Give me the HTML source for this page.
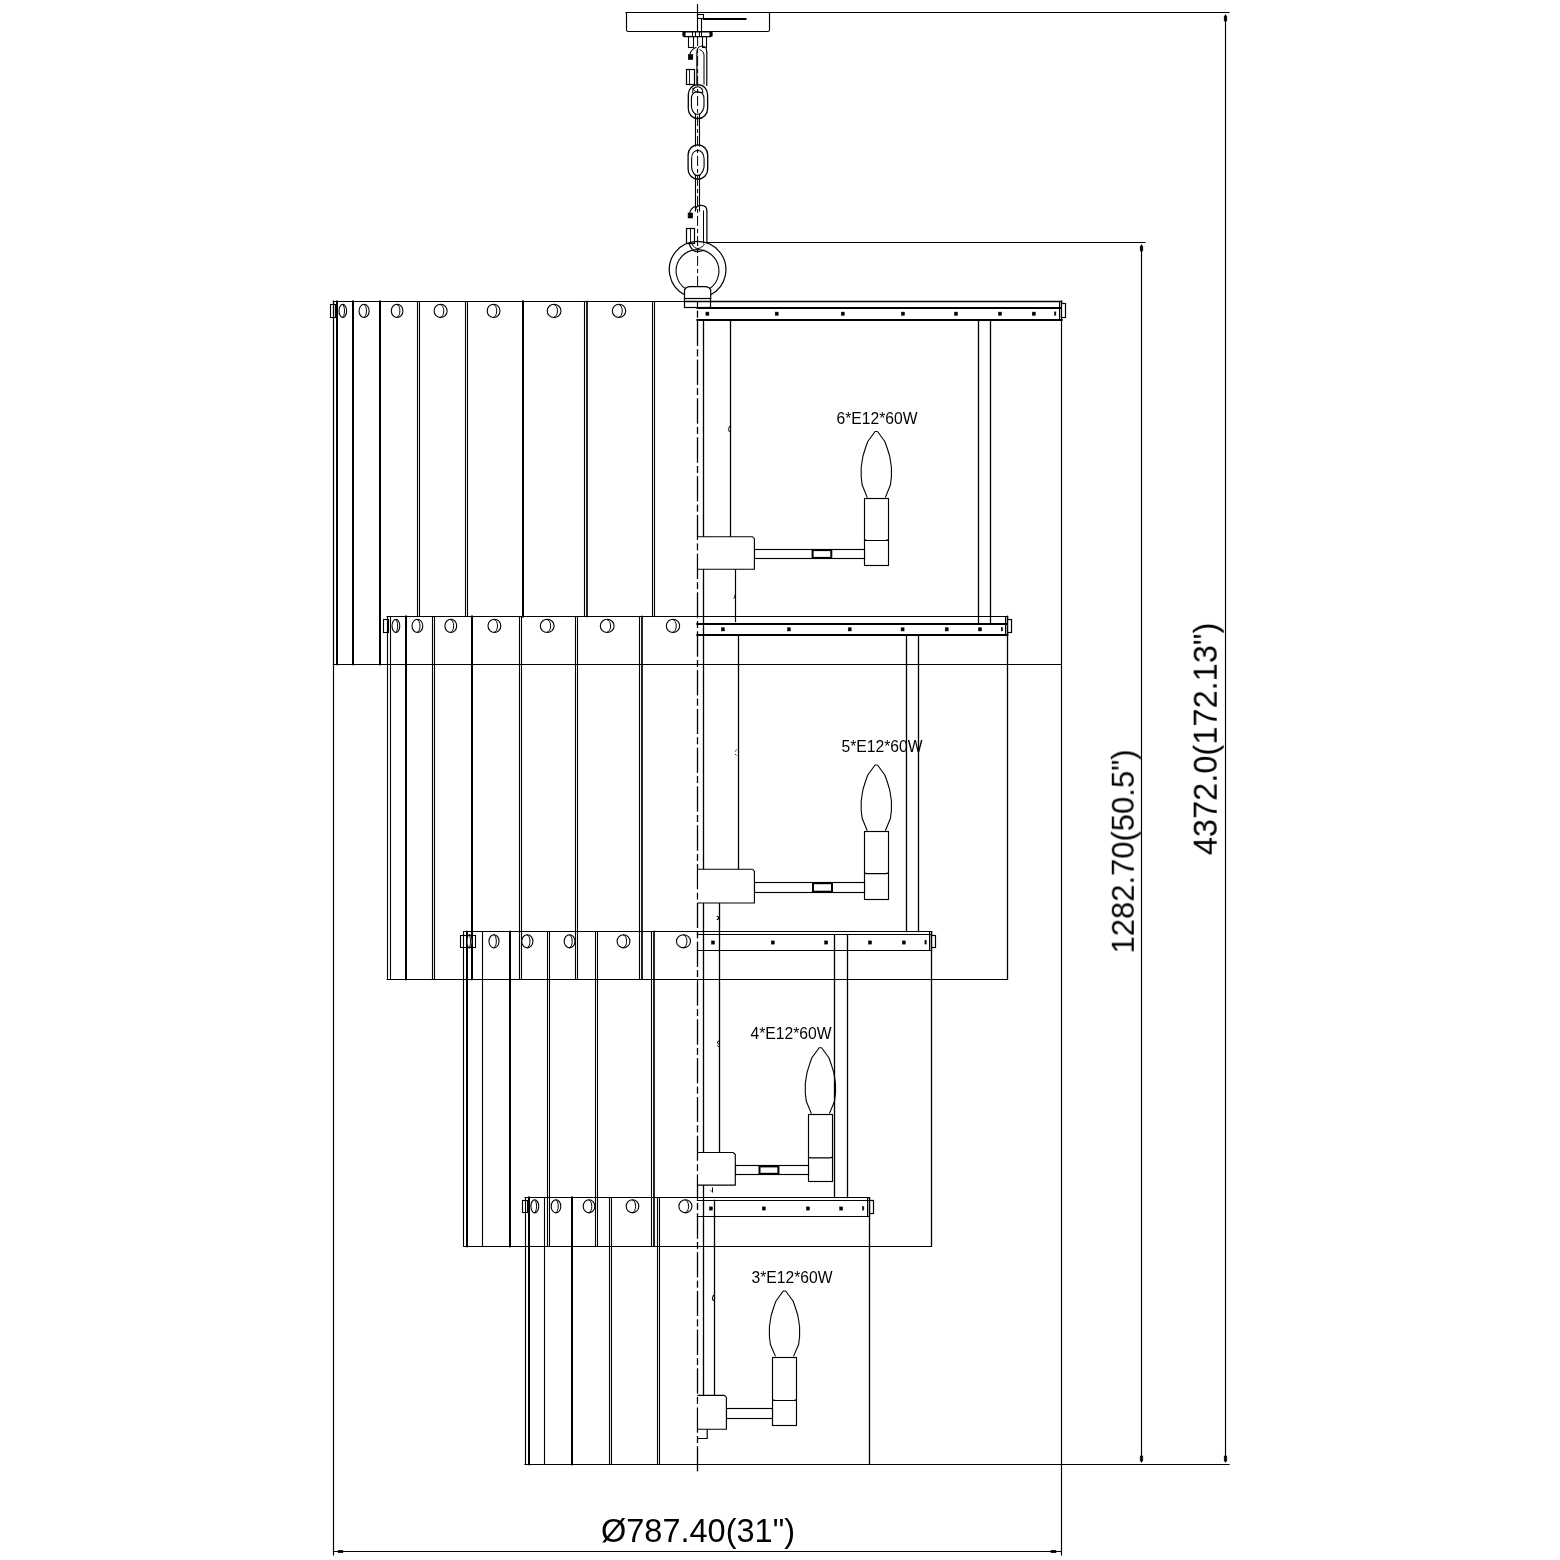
<!DOCTYPE html>
<html><head><meta charset="utf-8"><title>Chandelier drawing</title>
<style>
html,body{margin:0;padding:0;background:#fff;}
body{width:1560px;height:1560px;overflow:hidden;}
svg{display:block;}
</style></head>
<body>
<svg width="1560" height="1560" viewBox="0 0 1560 1560">
<rect x="0" y="0" width="1560" height="1560" fill="#fff"/>
<g stroke="#000" fill="none" stroke-linecap="butt">
<line x1="626" y1="12.5" x2="1229" y2="12.5" stroke-width="1.15" stroke-linecap="square"/>
<line x1="1225.5" y1="15" x2="1225.5" y2="1462" stroke-width="1.15" stroke-linecap="square"/>
<line x1="706" y1="242.5" x2="1145" y2="242.5" stroke-width="1.15" stroke-linecap="square"/>
<line x1="1141.5" y1="245" x2="1141.5" y2="1462" stroke-width="1.15" stroke-linecap="square"/>
<line x1="525" y1="1464.5" x2="1229" y2="1464.5" stroke-width="1.15" stroke-linecap="square"/>
<line x1="333.5" y1="301" x2="333.5" y2="1555" stroke-width="1.15" stroke-linecap="square"/>
<line x1="1061.5" y1="301" x2="1061.5" y2="1555" stroke-width="1.15" stroke-linecap="square"/>
<line x1="333.5" y1="1551.5" x2="1061.5" y2="1551.5" stroke-width="1.15" stroke-linecap="square"/>
<rect x="1224.2" y="16" width="2.60" height="5.00" stroke-width="0.6" fill="#000"/>
<rect x="1140.2" y="246" width="2.60" height="5.00" stroke-width="0.6" fill="#000"/>
<rect x="1224.2" y="1456" width="2.60" height="5.00" stroke-width="0.6" fill="#000"/>
<rect x="1140.2" y="1456" width="2.60" height="5.00" stroke-width="0.6" fill="#000"/>
<rect x="338.2" y="1550.3" width="4.60" height="2.40" stroke-width="0.6" fill="#000"/>
<rect x="1051" y="1550.3" width="5.00" height="2.40" stroke-width="0.6" fill="#000"/>
<line x1="697.5" y1="4.5" x2="697.5" y2="31.5" stroke-width="1.15" stroke-linecap="square"/>
<line x1="697.5" y1="301" x2="697.5" y2="1473.5" stroke-width="1.15" stroke-dasharray="25 3.5 6.8 3.5" stroke-dashoffset="18.8"/>
<line x1="697.6" y1="36" x2="697.6" y2="300" stroke-width="1.0" stroke-dasharray="10 3 4 3"/>
<path d="M626.5,12.5 L626.5,30 Q626.5,31.5 628,31.5 L768,31.5 Q769.5,31.5 769.5,30 L769.5,12.5" stroke-width="1.15" fill="none"/>
<rect x="697.5" y="14.5" width="6.00" height="4.00" stroke-width="1.1" fill="none"/>
<line x1="703.8" y1="19.0" x2="745.5" y2="19.0" stroke-width="2.0" stroke-linecap="square"/>
<line x1="701.5" y1="18.8" x2="701.5" y2="31.5" stroke-width="1.1" stroke-linecap="square"/>
<path d="M684.5,31.8 L710.5,31.8 Q712.8,34.2 710.5,36.6 L684.5,36.6 Q682.2,34.2 684.5,31.8 Z" stroke-width="1.4" fill="none"/>
<rect x="682.8" y="32.2" width="2.40" height="4.00" stroke-width="0.5" fill="#000"/>
<rect x="709.8" y="32.2" width="2.40" height="4.00" stroke-width="0.5" fill="#000"/>
<line x1="692.5" y1="32" x2="692.5" y2="36.4" stroke-width="1.0" stroke-linecap="square"/>
<line x1="695.5" y1="32" x2="695.5" y2="36.4" stroke-width="1.0" stroke-linecap="square"/>
<line x1="699.5" y1="32" x2="699.5" y2="36.4" stroke-width="1.0" stroke-linecap="square"/>
<line x1="701.5" y1="32" x2="701.5" y2="36.4" stroke-width="1.0" stroke-linecap="square"/>
<rect x="688.5" y="36.5" width="5.00" height="11.00" stroke-width="1.1" fill="none"/>
<rect x="702.5" y="36.5" width="4.00" height="11.00" stroke-width="1.1" fill="none"/>
<path d="M696.9,84.6 L696.9,52 C696.9,48 699.5,46 702,46 C705,46 706.8,48.5 706.8,52 L706.8,86" stroke-width="1.2" fill="none"/>
<path d="M699.5,49.6 C702,50.5 703.8,52 704,55 L704,84.6" stroke-width="1.0" fill="none"/>
<path d="M696.4,47.2 C693.5,48.2 690.8,50.5 689.8,54.6" stroke-width="1.1" fill="none"/>
<rect x="688.3" y="54.6" width="4.50" height="4.90" stroke-width="0.6" fill="#000"/>
<rect x="686.5" y="69.5" width="8.00" height="15.00" stroke-width="1.2" fill="none"/>
<line x1="689.5" y1="70" x2="689.5" y2="84" stroke-width="0.9" stroke-linecap="square"/>
<rect x="688.3" y="84.6" width="19.3" height="34.1" rx="9.6" ry="10" stroke-width="1.3" fill="none"/>
<path d="M691.4,99 C691.4,94 694,91.8 697.7,91.8 C701.4,91.8 704,94 704,99 L704,106 C704,110 701,113 699.5,114.3 L695.5,114.3 C694,113 691.4,110 691.4,106 Z" stroke-width="1.1" fill="none"/>
<path d="M692.6,93 A5.2,5.2 0 1 1 702.8,93" stroke-width="1.1" fill="none"/>
<path d="M692.6,88 C693.5,92 700,93.5 702.8,92" stroke-width="1.0" fill="none"/>
<line x1="695.5" y1="114" x2="695.5" y2="146" stroke-width="1.1" stroke-linecap="square"/>
<line x1="699.5" y1="114" x2="699.5" y2="146" stroke-width="1.1" stroke-linecap="square"/>
<rect x="688.1" y="144.9" width="19.6" height="34.3" rx="9.8" ry="10" stroke-width="1.3" fill="none"/>
<path d="M691.6,159 C691.6,154 694,150.4 697.8,150.4 C701.6,150.4 704.1,154 704.1,159 L704.1,166 C704.1,170 701,174 699.8,175.4 L695.4,175.4 C694,174 691.6,170 691.6,166 Z" stroke-width="1.1" fill="none"/>
<line x1="695.5" y1="175" x2="695.5" y2="211" stroke-width="1.1" stroke-linecap="square"/>
<line x1="699.5" y1="175" x2="699.5" y2="211" stroke-width="1.1" stroke-linecap="square"/>
<path d="M695.4,211 C695.4,207 698,205.4 701,205.4 C704.5,205.4 706.9,207.5 706.9,211 L706.9,243" stroke-width="1.2" fill="none"/>
<line x1="703.5" y1="211" x2="703.5" y2="243" stroke-width="1.0" stroke-linecap="square"/>
<path d="M695.4,206.2 C692.5,207.5 690.2,209.8 689.6,213" stroke-width="1.1" fill="none"/>
<rect x="688.1" y="213" width="4.60" height="5.00" stroke-width="0.6" fill="#000"/>
<rect x="686.5" y="228.5" width="8.00" height="15.00" stroke-width="1.2" fill="none"/>
<line x1="690.5" y1="229" x2="690.5" y2="243" stroke-width="0.9" stroke-linecap="square"/>
<path d="M684.5,294.8 A28.3,28.3 0 1 1 710.7,294.8" stroke-width="1.2" fill="none"/>
<path d="M686.5,289.4 A21.4,21.4 0 1 1 708.5,289.4" stroke-width="1.1" fill="none"/>
<path d="M688.9,243 C690,247 693,251.7 697,251.7 C700,251.7 702.5,251 704.5,250" stroke-width="1.1" fill="none"/>
<path d="M692,244 C693.5,247 695.5,248.5 698,248.5 C701,248.5 703,246 704.5,244" stroke-width="1.0" fill="none"/>
<path d="M684.5,298.6 L684.5,290 Q686,286.6 690,286.6 L705,286.6 Q709.2,286.6 710.7,290 L710.7,298.6 Z" stroke-width="1.2" fill="#fff"/>
<rect x="684.5" y="298.5" width="26.00" height="9.00" stroke-width="1.2" fill="#fff"/>
<line x1="684.5" y1="301.5" x2="710.7" y2="301.5" stroke-width="1.0" stroke-linecap="square"/>
<line x1="333.4" y1="301.5" x2="1061.5" y2="301.5" stroke-width="1.15" stroke-linecap="square"/>
<line x1="333.4" y1="664.5" x2="1061.5" y2="664.5" stroke-width="1.15" stroke-linecap="square"/>
<line x1="387.2" y1="616.5" x2="1007.5" y2="616.5" stroke-width="1.15" stroke-linecap="square"/>
<line x1="387.2" y1="979.5" x2="1007.5" y2="979.5" stroke-width="1.15" stroke-linecap="square"/>
<line x1="463.9" y1="931.5" x2="931.5" y2="931.5" stroke-width="1.15" stroke-linecap="square"/>
<line x1="463.9" y1="1246.5" x2="931.5" y2="1246.5" stroke-width="1.15" stroke-linecap="square"/>
<line x1="525.1" y1="1197.5" x2="869.3" y2="1197.5" stroke-width="1.15" stroke-linecap="square"/>
<line x1="333.5" y1="301.5" x2="333.5" y2="664.2" stroke-width="1.1" stroke-linecap="square"/>
<line x1="337.0" y1="301.5" x2="337.0" y2="664.2" stroke-width="2.0" stroke-linecap="square"/>
<line x1="353.0" y1="301.5" x2="353.0" y2="664.2" stroke-width="2.0" stroke-linecap="square"/>
<line x1="380.0" y1="301.5" x2="380.0" y2="664.2" stroke-width="2.0" stroke-linecap="square"/>
<line x1="417.5" y1="301.5" x2="417.5" y2="616.5" stroke-width="1.1" stroke-linecap="square"/>
<line x1="419.5" y1="301.5" x2="419.5" y2="616.5" stroke-width="1.1" stroke-linecap="square"/>
<line x1="465.5" y1="301.5" x2="465.5" y2="616.5" stroke-width="1.1" stroke-linecap="square"/>
<line x1="467.5" y1="301.5" x2="467.5" y2="616.5" stroke-width="1.1" stroke-linecap="square"/>
<line x1="523.0" y1="301.5" x2="523.0" y2="616.5" stroke-width="2.0" stroke-linecap="square"/>
<line x1="584.5" y1="301.5" x2="584.5" y2="616.5" stroke-width="1.1" stroke-linecap="square"/>
<line x1="587.0" y1="301.5" x2="587.0" y2="616.5" stroke-width="1.7" stroke-linecap="square"/>
<line x1="652.5" y1="301.5" x2="652.5" y2="616.5" stroke-width="1.1" stroke-linecap="square"/>
<line x1="654.5" y1="301.5" x2="654.5" y2="616.5" stroke-width="1.1" stroke-linecap="square"/>
<line x1="387.5" y1="616.5" x2="387.5" y2="979.2" stroke-width="1.1" stroke-linecap="square"/>
<line x1="390.5" y1="616.5" x2="390.5" y2="979.2" stroke-width="1.1" stroke-linecap="square"/>
<line x1="406.0" y1="616.5" x2="406.0" y2="979.2" stroke-width="2.0" stroke-linecap="square"/>
<line x1="432.5" y1="616.5" x2="432.5" y2="979.2" stroke-width="1.1" stroke-linecap="square"/>
<line x1="434.5" y1="616.5" x2="434.5" y2="979.2" stroke-width="1.1" stroke-linecap="square"/>
<line x1="472.0" y1="616.5" x2="472.0" y2="979.2" stroke-width="2.0" stroke-linecap="square"/>
<line x1="519.5" y1="616.5" x2="519.5" y2="979.2" stroke-width="1.1" stroke-linecap="square"/>
<line x1="521.5" y1="616.5" x2="521.5" y2="979.2" stroke-width="1.1" stroke-linecap="square"/>
<line x1="575.5" y1="616.5" x2="575.5" y2="979.2" stroke-width="1.1" stroke-linecap="square"/>
<line x1="577.5" y1="616.5" x2="577.5" y2="979.2" stroke-width="1.1" stroke-linecap="square"/>
<line x1="639.5" y1="616.5" x2="639.5" y2="979.2" stroke-width="1.1" stroke-linecap="square"/>
<line x1="642.0" y1="616.5" x2="642.0" y2="979.2" stroke-width="1.7" stroke-linecap="square"/>
<line x1="463.5" y1="931.7" x2="463.5" y2="1246.2" stroke-width="1.1" stroke-linecap="square"/>
<line x1="467.0" y1="931.7" x2="467.0" y2="1246.2" stroke-width="2.0" stroke-linecap="square"/>
<line x1="482.5" y1="931.7" x2="482.5" y2="1246.2" stroke-width="1.1" stroke-linecap="square"/>
<line x1="510.0" y1="931.7" x2="510.0" y2="1246.2" stroke-width="2.0" stroke-linecap="square"/>
<line x1="547.5" y1="931.7" x2="547.5" y2="1246.2" stroke-width="1.1" stroke-linecap="square"/>
<line x1="549.5" y1="931.7" x2="549.5" y2="1246.2" stroke-width="1.1" stroke-linecap="square"/>
<line x1="595.5" y1="931.7" x2="595.5" y2="1246.2" stroke-width="1.1" stroke-linecap="square"/>
<line x1="597.5" y1="931.7" x2="597.5" y2="1246.2" stroke-width="1.1" stroke-linecap="square"/>
<line x1="651.5" y1="931.7" x2="651.5" y2="1246.2" stroke-width="1.1" stroke-linecap="square"/>
<line x1="654.0" y1="931.7" x2="654.0" y2="1246.2" stroke-width="1.7" stroke-linecap="square"/>
<line x1="525.5" y1="1197.5" x2="525.5" y2="1464.3" stroke-width="1.1" stroke-linecap="square"/>
<line x1="529.0" y1="1197.5" x2="529.0" y2="1464.3" stroke-width="2.0" stroke-linecap="square"/>
<line x1="544.5" y1="1197.5" x2="544.5" y2="1464.3" stroke-width="1.1" stroke-linecap="square"/>
<line x1="572.0" y1="1197.5" x2="572.0" y2="1464.3" stroke-width="2.0" stroke-linecap="square"/>
<line x1="609.5" y1="1197.5" x2="609.5" y2="1464.3" stroke-width="1.1" stroke-linecap="square"/>
<line x1="611.5" y1="1197.5" x2="611.5" y2="1464.3" stroke-width="1.1" stroke-linecap="square"/>
<line x1="657.5" y1="1197.5" x2="657.5" y2="1464.3" stroke-width="1.1" stroke-linecap="square"/>
<line x1="659.5" y1="1197.5" x2="659.5" y2="1464.3" stroke-width="1.1" stroke-linecap="square"/>
<ellipse cx="342.8" cy="310.9" rx="3.8" ry="6.6" stroke-width="1.1" fill="#fff"/>
<path d="M342.4,304.6 A2.09,6.3 0 0 1 342.4,317.2" stroke-width="1.0" fill="none"/>
<ellipse cx="364.1" cy="310.9" rx="5.05" ry="6.6" stroke-width="1.1" fill="#fff"/>
<path d="M363.7,304.6 A2.78,6.3 0 0 1 363.7,317.2" stroke-width="1.0" fill="none"/>
<ellipse cx="397.1" cy="310.9" rx="5.8" ry="6.6" stroke-width="1.1" fill="#fff"/>
<path d="M396.7,304.6 A3.19,6.3 0 0 1 396.7,317.2" stroke-width="1.0" fill="none"/>
<ellipse cx="440.6" cy="310.9" rx="6.5" ry="6.6" stroke-width="1.1" fill="#fff"/>
<path d="M440.2,304.6 A3.58,6.3 0 0 1 440.2,317.2" stroke-width="1.0" fill="none"/>
<ellipse cx="493.6" cy="310.9" rx="6.4" ry="6.6" stroke-width="1.1" fill="#fff"/>
<path d="M493.2,304.6 A3.52,6.3 0 0 1 493.2,317.2" stroke-width="1.0" fill="none"/>
<ellipse cx="554.1" cy="310.9" rx="6.9" ry="6.6" stroke-width="1.1" fill="#fff"/>
<path d="M553.7,304.6 A3.80,6.3 0 0 1 553.7,317.2" stroke-width="1.0" fill="none"/>
<ellipse cx="619.0" cy="310.9" rx="6.65" ry="6.6" stroke-width="1.1" fill="#fff"/>
<path d="M618.6,304.6 A3.66,6.3 0 0 1 618.6,317.2" stroke-width="1.0" fill="none"/>
<ellipse cx="395.9" cy="625.9" rx="3.85" ry="6.6" stroke-width="1.1" fill="#fff"/>
<path d="M395.5,619.6 A2.12,6.3 0 0 1 395.5,632.2" stroke-width="1.0" fill="none"/>
<ellipse cx="417.4" cy="625.9" rx="5.4" ry="6.6" stroke-width="1.1" fill="#fff"/>
<path d="M417.0,619.6 A2.97,6.3 0 0 1 417.0,632.2" stroke-width="1.0" fill="none"/>
<ellipse cx="450.8" cy="625.9" rx="5.9" ry="6.6" stroke-width="1.1" fill="#fff"/>
<path d="M450.4,619.6 A3.25,6.3 0 0 1 450.4,632.2" stroke-width="1.0" fill="none"/>
<ellipse cx="494.4" cy="625.9" rx="6.4" ry="6.6" stroke-width="1.1" fill="#fff"/>
<path d="M494.0,619.6 A3.52,6.3 0 0 1 494.0,632.2" stroke-width="1.0" fill="none"/>
<ellipse cx="547.2" cy="625.9" rx="6.9" ry="6.6" stroke-width="1.1" fill="#fff"/>
<path d="M546.8,619.6 A3.80,6.3 0 0 1 546.8,632.2" stroke-width="1.0" fill="none"/>
<ellipse cx="607.2" cy="625.9" rx="6.9" ry="6.6" stroke-width="1.1" fill="#fff"/>
<path d="M606.8,619.6 A3.80,6.3 0 0 1 606.8,632.2" stroke-width="1.0" fill="none"/>
<ellipse cx="673.0" cy="625.9" rx="6.65" ry="6.6" stroke-width="1.1" fill="#fff"/>
<path d="M672.6,619.6 A3.66,6.3 0 0 1 672.6,632.2" stroke-width="1.0" fill="none"/>
<ellipse cx="469.5" cy="941.3" rx="2.5" ry="6.6" stroke-width="1.1" fill="#fff"/>
<path d="M469.1,935.0 A1.38,6.3 0 0 1 469.1,947.6" stroke-width="1.0" fill="none"/>
<ellipse cx="494.0" cy="941.3" rx="5.0" ry="6.6" stroke-width="1.1" fill="#fff"/>
<path d="M493.6,935.0 A2.75,6.3 0 0 1 493.6,947.6" stroke-width="1.0" fill="none"/>
<ellipse cx="527.3" cy="941.3" rx="5.6" ry="6.6" stroke-width="1.1" fill="#fff"/>
<path d="M526.9,935.0 A3.08,6.3 0 0 1 526.9,947.6" stroke-width="1.0" fill="none"/>
<ellipse cx="569.6" cy="941.3" rx="5.4" ry="6.6" stroke-width="1.1" fill="#fff"/>
<path d="M569.2,935.0 A2.97,6.3 0 0 1 569.2,947.6" stroke-width="1.0" fill="none"/>
<ellipse cx="623.5" cy="941.3" rx="6.4" ry="6.6" stroke-width="1.1" fill="#fff"/>
<path d="M623.1,935.0 A3.52,6.3 0 0 1 623.1,947.6" stroke-width="1.0" fill="none"/>
<ellipse cx="683.5" cy="941.3" rx="7.0" ry="6.6" stroke-width="1.1" fill="#fff"/>
<path d="M683.1,935.0 A3.85,6.3 0 0 1 683.1,947.6" stroke-width="1.0" fill="none"/>
<ellipse cx="534.8" cy="1206.3" rx="3.9" ry="6.6" stroke-width="1.1" fill="#fff"/>
<path d="M534.4,1200.0 A2.15,6.3 0 0 1 534.4,1212.6" stroke-width="1.0" fill="none"/>
<ellipse cx="556.0" cy="1206.3" rx="4.8" ry="6.6" stroke-width="1.1" fill="#fff"/>
<path d="M555.6,1200.0 A2.64,6.3 0 0 1 555.6,1212.6" stroke-width="1.0" fill="none"/>
<ellipse cx="589.0" cy="1206.3" rx="5.8" ry="6.6" stroke-width="1.1" fill="#fff"/>
<path d="M588.6,1200.0 A3.19,6.3 0 0 1 588.6,1212.6" stroke-width="1.0" fill="none"/>
<ellipse cx="632.5" cy="1206.3" rx="6.3" ry="6.6" stroke-width="1.1" fill="#fff"/>
<path d="M632.1,1200.0 A3.47,6.3 0 0 1 632.1,1212.6" stroke-width="1.0" fill="none"/>
<ellipse cx="685.4" cy="1206.3" rx="6.5" ry="6.6" stroke-width="1.1" fill="#fff"/>
<path d="M685.0,1200.0 A3.58,6.3 0 0 1 685.0,1212.6" stroke-width="1.0" fill="none"/>
<rect x="330.5" y="304.5" width="5.00" height="13.00" stroke-width="1.1" fill="none"/>
<rect x="383.5" y="619.5" width="5.00" height="13.00" stroke-width="1.1" fill="none"/>
<rect x="460.5" y="935.5" width="15.00" height="12.00" stroke-width="1.1" fill="none"/>
<rect x="522.5" y="1200.5" width="5.00" height="12.00" stroke-width="1.1" fill="none"/>
<line x1="684.6" y1="301.5" x2="1061.5" y2="301.5" stroke-width="1.3" stroke-linecap="square"/>
<line x1="697.4" y1="301.5" x2="1061.5" y2="301.5" stroke-width="1.2" stroke-linecap="square"/>
<line x1="697.4" y1="308.0" x2="1061.5" y2="308.0" stroke-width="2.0" stroke-linecap="square"/>
<line x1="697.4" y1="320.0" x2="1061.5" y2="320.0" stroke-width="2.0" stroke-linecap="square"/>
<line x1="1061.5" y1="301.5" x2="1061.5" y2="319.7" stroke-width="1.3" stroke-linecap="square"/>
<line x1="1059.5" y1="301.5" x2="1059.5" y2="319.7" stroke-width="1.0" stroke-linecap="square"/>
<rect x="1061.5" y="303.5" width="4.00" height="14.00" stroke-width="1.2" fill="#fff"/>
<rect x="705.9" y="312.09999999999997" width="3.00" height="3.20" stroke-width="0.5" fill="#000"/>
<rect x="775.2" y="312.09999999999997" width="3.00" height="3.20" stroke-width="0.5" fill="#000"/>
<rect x="841.3" y="312.09999999999997" width="3.00" height="3.20" stroke-width="0.5" fill="#000"/>
<rect x="901.5" y="312.09999999999997" width="3.00" height="3.20" stroke-width="0.5" fill="#000"/>
<rect x="954.5" y="312.09999999999997" width="3.00" height="3.20" stroke-width="0.5" fill="#000"/>
<rect x="998.5" y="312.09999999999997" width="3.00" height="3.20" stroke-width="0.5" fill="#000"/>
<rect x="1032.3" y="312.09999999999997" width="3.00" height="3.20" stroke-width="0.5" fill="#000"/>
<rect x="1054.4" y="311.9" width="1.50" height="3.40" stroke-width="0.4" fill="#000"/>
<line x1="697.4" y1="616.5" x2="1007.3" y2="616.5" stroke-width="1.2" stroke-linecap="square"/>
<line x1="697.4" y1="624.0" x2="1007.3" y2="624.0" stroke-width="2.0" stroke-linecap="square"/>
<line x1="697.4" y1="635.0" x2="1007.3" y2="635.0" stroke-width="2.0" stroke-linecap="square"/>
<line x1="1007.5" y1="616.5" x2="1007.5" y2="634.9" stroke-width="1.3" stroke-linecap="square"/>
<line x1="1005.5" y1="616.5" x2="1005.5" y2="634.9" stroke-width="1.0" stroke-linecap="square"/>
<rect x="1007.5" y="619.5" width="4.00" height="13.00" stroke-width="1.2" fill="#fff"/>
<rect x="721.5" y="627.7499999999999" width="3.00" height="3.20" stroke-width="0.5" fill="#000"/>
<rect x="787.5" y="627.7499999999999" width="3.00" height="3.20" stroke-width="0.5" fill="#000"/>
<rect x="848.2" y="627.7499999999999" width="3.00" height="3.20" stroke-width="0.5" fill="#000"/>
<rect x="901.1" y="627.7499999999999" width="3.00" height="3.20" stroke-width="0.5" fill="#000"/>
<rect x="945.2" y="627.7499999999999" width="3.00" height="3.20" stroke-width="0.5" fill="#000"/>
<rect x="978.5" y="627.7499999999999" width="3.00" height="3.20" stroke-width="0.5" fill="#000"/>
<rect x="1001.1999999999999" y="627.55" width="1.50" height="3.40" stroke-width="0.4" fill="#000"/>
<line x1="697.4" y1="931.5" x2="931.2" y2="931.5" stroke-width="1.2" stroke-linecap="square"/>
<line x1="697.4" y1="934.5" x2="931.2" y2="934.5" stroke-width="1.2" stroke-linecap="square"/>
<line x1="697.4" y1="950.5" x2="931.2" y2="950.5" stroke-width="1.2" stroke-linecap="square"/>
<line x1="931.5" y1="931.7" x2="931.5" y2="950.3" stroke-width="1.3" stroke-linecap="square"/>
<line x1="929.5" y1="931.7" x2="929.5" y2="950.3" stroke-width="1.0" stroke-linecap="square"/>
<rect x="931.5" y="935.5" width="4.00" height="12.00" stroke-width="1.2" fill="#fff"/>
<rect x="711.5" y="940.9" width="3.00" height="3.20" stroke-width="0.5" fill="#000"/>
<rect x="771.3" y="940.9" width="3.00" height="3.20" stroke-width="0.5" fill="#000"/>
<rect x="824.7" y="940.9" width="3.00" height="3.20" stroke-width="0.5" fill="#000"/>
<rect x="868.5" y="940.9" width="3.00" height="3.20" stroke-width="0.5" fill="#000"/>
<rect x="902.3" y="940.9" width="3.00" height="3.20" stroke-width="0.5" fill="#000"/>
<rect x="924.9" y="940.7" width="1.50" height="3.40" stroke-width="0.4" fill="#000"/>
<line x1="697.4" y1="1197.5" x2="869.4" y2="1197.5" stroke-width="1.2" stroke-linecap="square"/>
<line x1="697.4" y1="1200.5" x2="869.4" y2="1200.5" stroke-width="1.2" stroke-linecap="square"/>
<line x1="697.4" y1="1216.5" x2="869.4" y2="1216.5" stroke-width="1.2" stroke-linecap="square"/>
<line x1="869.5" y1="1197.7" x2="869.5" y2="1216.6" stroke-width="1.3" stroke-linecap="square"/>
<line x1="867.5" y1="1197.7" x2="867.5" y2="1216.6" stroke-width="1.0" stroke-linecap="square"/>
<rect x="869.5" y="1200.5" width="4.00" height="13.00" stroke-width="1.2" fill="#fff"/>
<rect x="709.4" y="1206.9" width="3.00" height="3.20" stroke-width="0.5" fill="#000"/>
<rect x="762.3" y="1206.9" width="3.00" height="3.20" stroke-width="0.5" fill="#000"/>
<rect x="806.5" y="1206.9" width="3.00" height="3.20" stroke-width="0.5" fill="#000"/>
<rect x="839.7" y="1206.9" width="3.00" height="3.20" stroke-width="0.5" fill="#000"/>
<rect x="862.4" y="1206.7" width="1.50" height="3.40" stroke-width="0.4" fill="#000"/>
<line x1="703.5" y1="319.7" x2="703.5" y2="1395.4" stroke-width="1.3" stroke-linecap="square"/>
<line x1="730.5" y1="319.7" x2="730.5" y2="536.7" stroke-width="1.3" stroke-linecap="square"/>
<line x1="735.5" y1="569.2" x2="735.5" y2="621.5" stroke-width="1.2" stroke-linecap="square"/>
<line x1="978.5" y1="319.7" x2="978.5" y2="623.8" stroke-width="1.3" stroke-linecap="square"/>
<line x1="990.5" y1="319.7" x2="990.5" y2="623.8" stroke-width="1.3" stroke-linecap="square"/>
<line x1="738.5" y1="634.9" x2="738.5" y2="869.2" stroke-width="1.3" stroke-linecap="square"/>
<line x1="719.5" y1="903.0" x2="719.5" y2="1152.5" stroke-width="1.3" stroke-linecap="square"/>
<line x1="906.5" y1="634.9" x2="906.5" y2="931.7" stroke-width="1.3" stroke-linecap="square"/>
<line x1="918.5" y1="634.9" x2="918.5" y2="931.7" stroke-width="1.3" stroke-linecap="square"/>
<line x1="1007.5" y1="616.5" x2="1007.5" y2="979.2" stroke-width="1.3" stroke-linecap="square"/>
<line x1="714.5" y1="1200.4" x2="714.5" y2="1395.4" stroke-width="1.3" stroke-linecap="square"/>
<line x1="712.5" y1="1188" x2="712.5" y2="1192" stroke-width="1.0" stroke-linecap="square"/>
<line x1="834.5" y1="934.7" x2="834.5" y2="1197.7" stroke-width="1.3" stroke-linecap="square"/>
<line x1="847.5" y1="934.7" x2="847.5" y2="1197.7" stroke-width="1.3" stroke-linecap="square"/>
<line x1="931.5" y1="931.7" x2="931.5" y2="1246.2" stroke-width="1.3" stroke-linecap="square"/>
<line x1="869.5" y1="1197.7" x2="869.5" y2="1464.3" stroke-width="1.3" stroke-linecap="square"/>
<path d="M877.5,431.5 L884.8,441.5 L886.3,445.5 L887.3,448.5 L889.5,455.5 L890.4,460.5 L891.4,467.5 L891.4,477.0 L890.4,485.0 L885.3,497.6 M867.3,497.6 L862.2,485.0 L861.2,477.0 L861.2,467.5 L862.2,460.5 L863.1,455.5 L865.3,448.5 L866.3,445.5 L867.8,441.5 L875.1,431.5 L877.5,431.5" stroke-width="1.1" fill="none"/>
<rect x="864.5" y="498.5" width="24.00" height="67.00" stroke-width="1.15" fill="#fff"/>
<path d="M864.1,539.5 Q865.1,540.5 867.1,540.5 L885.5,540.5 Q887.5,540.5 888.5,539.5" stroke-width="1.2" fill="none"/>
<rect x="754.5" y="549.5" width="110.00" height="9.00" stroke-width="1.15" fill="#fff"/>
<rect x="812.6" y="550.1" width="18.70" height="7.80" stroke-width="2.0" fill="#fff"/>
<path d="M697.4,536.7 L752.4,536.7 L754.4,538.7 L754.4,569.2 L697.4,569.2" stroke-width="1.15" fill="#fff"/>
<path d="M877.5,765.0 L884.8,775.0 L886.3,779.0 L887.3,782.0 L889.5,789.0 L890.4,794.0 L891.4,801.0 L891.4,810.5 L890.4,818.5 L885.3,830.7 M867.3,830.7 L862.2,818.5 L861.2,810.5 L861.2,801.0 L862.2,794.0 L863.1,789.0 L865.3,782.0 L866.3,779.0 L867.8,775.0 L875.1,765.0 L877.5,765.0" stroke-width="1.1" fill="none"/>
<rect x="864.5" y="831.5" width="24.00" height="68.00" stroke-width="1.15" fill="#fff"/>
<path d="M864.1,872.6 Q865.1,873.6 867.1,873.6 L885.5,873.6 Q887.5,873.6 888.5,872.6" stroke-width="1.2" fill="none"/>
<rect x="754.5" y="882.5" width="110.00" height="10.00" stroke-width="1.15" fill="#fff"/>
<rect x="813.0" y="883.2" width="19.00" height="8.50" stroke-width="2.0" fill="#fff"/>
<path d="M697.4,869.2 L752.4,869.2 L754.4,871.2 L754.4,903.0 L697.4,903.0" stroke-width="1.15" fill="#fff"/>
<path d="M821.6,1047.8 L828.9,1057.8 L830.4,1061.8 L831.4,1064.8 L833.6,1071.8 L834.5,1076.8 L835.5,1083.8 L835.5,1093.3 L834.5,1101.3 L829.4,1113.6 M811.4,1113.6 L806.3,1101.3 L805.3,1093.3 L805.3,1083.8 L806.3,1076.8 L807.2,1071.8 L809.4,1064.8 L810.4,1061.8 L811.9,1057.8 L819.2,1047.8 L821.6,1047.8" stroke-width="1.1" fill="none"/>
<rect x="808.5" y="1114.5" width="24.00" height="67.00" stroke-width="1.15" fill="#fff"/>
<path d="M808.2,1156.9 Q809.2,1157.9 811.2,1157.9 L829.5,1157.9 Q831.5,1157.9 832.5,1156.9" stroke-width="1.2" fill="none"/>
<rect x="735.5" y="1165.5" width="73.00" height="9.00" stroke-width="1.15" fill="#fff"/>
<rect x="759.5" y="1166.3999999999999" width="18.90" height="7.40" stroke-width="2.0" fill="#fff"/>
<path d="M697.4,1152.5 L733.3,1152.5 L735.3,1154.5 L735.3,1185.1 L697.4,1185.1" stroke-width="1.15" fill="#fff"/>
<path d="M785.7,1291.0 L793.0,1301.0 L794.5,1305.0 L795.5,1308.0 L797.7,1315.0 L798.6,1320.0 L799.6,1327.0 L799.6,1336.5 L798.6,1344.5 L793.5,1356.4 M775.5,1356.4 L770.4,1344.5 L769.4,1336.5 L769.4,1327.0 L770.4,1320.0 L771.3,1315.0 L773.5,1308.0 L774.5,1305.0 L776.0,1301.0 L783.3,1291.0 L785.7,1291.0" stroke-width="1.1" fill="none"/>
<rect x="772.5" y="1357.5" width="24.00" height="68.00" stroke-width="1.15" fill="#fff"/>
<path d="M772.3,1399.5 Q773.3,1400.5 775.3,1400.5 L793.7,1400.5 Q795.7,1400.5 796.7,1399.5" stroke-width="1.2" fill="none"/>
<rect x="726.5" y="1408.5" width="46.00" height="10.00" stroke-width="1.15" fill="#fff"/>
<path d="M697.4,1395.4 L724.4,1395.4 L726.4,1397.4 L726.4,1429.2 L697.4,1429.2" stroke-width="1.15" fill="#fff"/>
<path d="M697.5,1438.5 L707.2,1438.5 L707.2,1429.2" stroke-width="1.2" fill="none"/>
<path d="M730.5,426.0 Q728.6,426.4 729.2,428.0 Q727.8,428.6 728.6,429.6 Q727.8,430.6 729.0,431.2 L730.5,431.8" stroke-width="1.0" fill="none"/>
<path d="M735.3,594.5 Q734.6,595.8 734.8,597.2 Q734.0,598.2 733.4,598.6" stroke-width="1.0" fill="none"/>
<path d="M736.6,749.8 Q735.4,750.6 735.4,751.4 M735.2,754.2 L736.4,755.4" stroke-width="1.0" fill="none"/>
<path d="M716.6,916.3 Q718.8,916.3 718.6,917.8 Q718.8,919.4 716.8,919.4" stroke-width="1.1" fill="none"/>
<path d="M719.5,1041.0 Q717.0,1040.8 717.4,1043.2 Q718.6,1044.2 719.3,1043.6 M717.3,1045.3 Q718.0,1046.8 719.5,1046.9" stroke-width="1.0" fill="none"/>
<path d="M710.4,1190.3 L711.6,1191.5" stroke-width="1.0" fill="none"/>
<path d="M714.3,1295.0 Q712.6,1295.8 712.8,1297.0 Q712.0,1298.0 712.6,1298.6 Q712.0,1299.6 713.0,1300.0 L714.3,1300.8" stroke-width="1.1" fill="none"/>
<line x1="697.5" y1="301" x2="697.5" y2="1473.5" stroke-width="1.15" stroke-dasharray="25 3.5 6.8 3.5" stroke-dashoffset="18.8"/>
</g>
<g fill="#000" font-family="'Liberation Sans', sans-serif" opacity="0.999">
<text x="877.0" y="424.0" font-size="15.6" text-anchor="middle" textLength="81" lengthAdjust="spacingAndGlyphs">6*E12*60W</text>
<text x="882.0" y="751.8" font-size="15.6" text-anchor="middle" textLength="81" lengthAdjust="spacingAndGlyphs">5*E12*60W</text>
<text x="791.0" y="1038.8" font-size="15.6" text-anchor="middle" textLength="81" lengthAdjust="spacingAndGlyphs">4*E12*60W</text>
<text x="792.0" y="1282.6" font-size="15.6" text-anchor="middle" textLength="81" lengthAdjust="spacingAndGlyphs">3*E12*60W</text>
<text x="698.0" y="1541.8" font-size="32.5" text-anchor="middle" >&#216;787.40(31")</text>
<text x="0" y="0" font-size="32.6" text-anchor="middle" transform="translate(1216.7,738.9) rotate(-90)">4372.0(172.13")</text>
<text x="0" y="0" font-size="31" text-anchor="middle" transform="translate(1133.8,851.5) rotate(-90)">1282.70(50.5")</text>
</g>
</svg>
</body></html>
